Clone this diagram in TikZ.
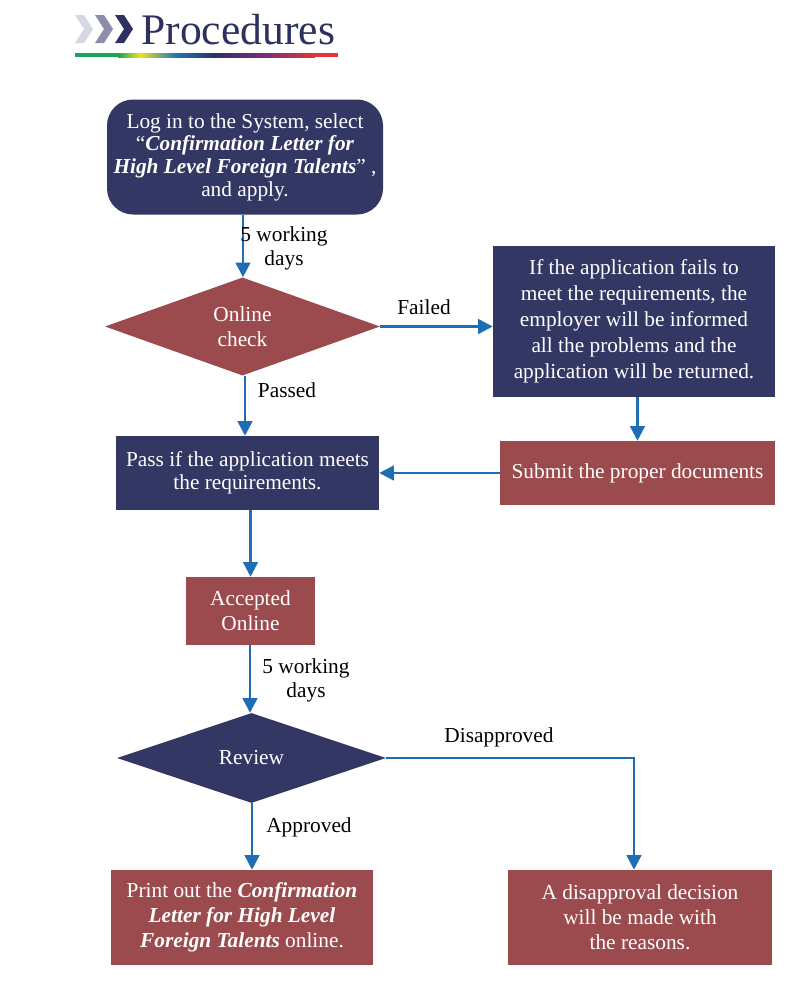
\documentclass[tikz,border=0pt]{standalone}
\usepackage{fontspec}
\setmainfont{Liberation Serif}
\usetikzlibrary{shapes.geometric,arrows.meta}
\definecolor{navy}{HTML}{333764}
\definecolor{brick}{HTML}{9B4B4D}
\definecolor{arr}{HTML}{1F6DB3}
\definecolor{titlec}{HTML}{2D3160}
\definecolor{chevl}{HTML}{D5D7E2}
\definecolor{chevm}{HTML}{8A8EA8}
\newdimen\pxu \pxu=0.75pt
\begin{document}
\begin{tikzpicture}[x=0.75pt,y=-0.75pt,
  box/.style={draw=none,fill=#1,text=white,align=center,inner sep=0pt,font=\fontsize{16}{18.8}\selectfont},
  dia/.style={diamond,fill=#1,text=white,align=center,inner sep=0pt,font=\fontsize{16}{18.8}\selectfont},
  conn/.style={draw=arr,line width=2pt,-{Triangle[length=11pt,width=11pt]}},
  lbl/.style={font=\fontsize{16}{18}\selectfont,align=center,inner sep=0pt}]
\useasboundingbox (0,0) rectangle (808,1000);
% header chevrons
\fill[chevl] (75,15) -- (84,15) -- (93,29) -- (84,43) -- (75,43) -- (84,29) -- cycle;
\fill[chevm] (95,15) -- (104,15) -- (113,29) -- (104,43) -- (95,43) -- (104,29) -- cycle;
\fill[titlec] (115,15) -- (124,15) -- (133,29) -- (124,43) -- (115,43) -- (124,29) -- cycle;
\node[anchor=base west,inner sep=0pt,text=titlec,font=\fontsize{32.7}{36}\selectfont] (title) at (141,44) {Procedures};
% gradient bar
\definecolor{g1}{HTML}{1AA35A}\definecolor{g2}{HTML}{F2E11E}\definecolor{g3}{HTML}{2277B5}
\definecolor{g4}{HTML}{2D3160}\definecolor{g5}{HTML}{7B2A7C}\definecolor{g6}{HTML}{E0363A}
\fill[g1] (75,53) rectangle (118,57);
\shade[left color=g1,right color=g2] (118,53) rectangle (140,57);
\shade[left color=g2,right color=g3] (140,53) rectangle (175,57);
\shade[left color=g3,right color=g4] (175,53) rectangle (215,57);
\shade[left color=g4,right color=g5] (215,53) rectangle (262,57);
\shade[left color=g5,right color=g6] (262,53) rectangle (315,57);
\fill[g6] (315,53) rectangle (338,57);
% nodes
\node[box=navy,rounded corners=26\pxu,minimum width=276\pxu,minimum height=115\pxu,font=\fontsize{16}{17}\selectfont] (login) at (245,157)
  {Log in to the System, select\\ ``\textbf{\textit{Confirmation Letter for}}\\ \textbf{\textit{High Level Foreign Talents}}'' ,\\ and apply.};
\node[dia=brick,minimum width=275\pxu,minimum height=87\pxu] (check) at (242.5,326.5) {Online\\ check};
\node[box=navy,minimum width=282\pxu,minimum height=151\pxu,font=\fontsize{16}{19.5}\selectfont] (fail) at (634,321.5)
  {If the application fails to\\ meet the requirements, the\\ employer will be informed\\ all the problems and the\\ application will be returned.};
\node[box=brick,minimum width=275\pxu,minimum height=64\pxu] (submit) at (637.5,473) {Submit the proper documents};
\node[box=navy,minimum width=263\pxu,minimum height=74\pxu,font=\fontsize{16}{17.3}\selectfont] (pass) at (247.5,473) {Pass if the application meets\\ the requirements.};
\node[box=brick,minimum width=129\pxu,minimum height=68\pxu] (acc) at (250.5,611) {Accepted\\ Online};
\node[dia=navy,minimum width=269\pxu,minimum height=90\pxu] (review) at (251.5,758) {Review};
\node[box=brick,minimum width=262\pxu,minimum height=95\pxu] (print) at (242,917.5)
  {Print out the \textbf{\textit{Confirmation}}\\ \textbf{\textit{Letter for High Level}}\\ \textbf{\textit{Foreign Talents}} online.};
\node[box=brick,minimum width=264\pxu,minimum height=95\pxu] (dis) at (640,917.5)
  {A disapproval decision\\ will be made with\\ the reasons.};
% connectors
\draw[conn] (login.south -| 243,0) -- (check.north -| 243,0);
\node[lbl] (l1) at (284,248) {5 working\\ days};
\draw[conn] (check.east) -- (fail.west |- check.east);
\node[lbl] (l2) at (424,307) {Failed};
\draw[conn] (fail.south -| submit.north) -- (submit.north);
\draw[conn] (submit.west) -- (pass.east);
\draw[conn] (check.south -| 245,0) -- (pass.north -| 245,0);
\node[lbl] (l3) at (287,390) {Passed};
\draw[conn] (pass.south -| acc.north) -- (acc.north);
\draw[conn] (acc.south -| 250,0) -- (review.north -| 250,0);
\node[lbl] (l4) at (306,680) {5 working\\ days};
\draw[conn] (review.south -| 252,0) -- (print.north -| 252,0);
\node[lbl] (l5) at (309,827) {Approved};
\coordinate (corner) at (634,758);
\draw[conn] (review.east) -- (corner) -- (dis.north -| corner);
\node[lbl] (l6) at (499,737) {Disapproved};
\end{tikzpicture}
\end{document}
